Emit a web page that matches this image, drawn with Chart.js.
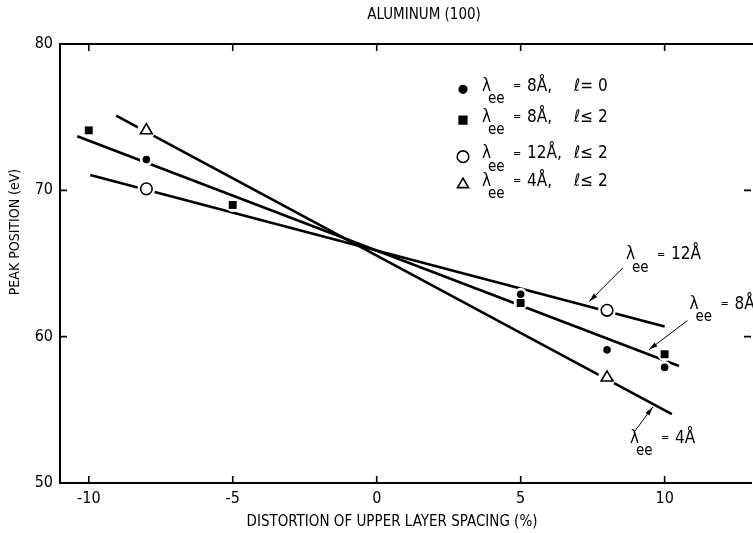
<!DOCTYPE html>
<html>
<head>
<meta charset="utf-8">
<script src="https://cdn.jsdelivr.net/npm/chart.js@4.4.0/dist/chart.umd.min.js"></script>
<style>
  html, body { margin: 0; padding: 0; background: #fff; overflow: hidden; }
  #peakChart { display: block; }
</style>
</head>
<body>
<canvas id="peakChart" width="760" height="533"></canvas>
<script>
// axis ticks
const xTicks = [-10, -5, 0, 5, 10];
const yTicks = [50, 60, 70, 80];

// peak positions (eV) vs distortion (%)
const fillCircleX = [-8, 5, 8, 10];
const fillCircleY = [72.1, 62.9, 59.1, 57.9];
const fillSquareX = [-10, -5, 5, 10];
const fillSquareY = [74.1, 69.0, 62.3, 58.8];
const openCircleX = [-8, 8];
const openCircleY = [70.1, 61.8];
const triangleX = [-8, 8];
const triangleY = [74.1, 57.2];

// straight-line fits, end points
const fit12X = [-9.95, 10.0];
const fit12Y = [71.05, 60.7];
const fit8X = [-10.4, 10.5];
const fit8Y = [73.7, 58.0];
const fit4X = [-9.05, 10.25];
const fit4Y = [75.1, 54.7];

const FONT = "'Liberation Sans Narrow', 'DejaVu Sans Condensed', 'Liberation Sans', sans-serif";

const pts = (xs, ys) => xs.map((x, i) => ({ x, y: ys[i] }));

function markerSet(xs, ys, style, radius, filled) {
    return {
        data: pts(xs, ys),
        showLine: false,
        pointStyle: style,
        pointRadius: radius,
        pointBackgroundColor: filled ? '#000' : '#fff',
        pointBorderColor: '#000',
        pointBorderWidth: filled ? 0 : 1.6,
        order: 0
    };
}

// white ring under each marker so the fit lines break around it
function haloSet(xs, ys, radius) {
    return {
        data: pts(xs, ys),
        showLine: false,
        pointStyle: 'circle',
        pointRadius: radius,
        pointBackgroundColor: '#fff',
        pointBorderWidth: 0,
        order: 1
    };
}

function fitSet(xs, ys) {
    return {
        data: pts(xs, ys),
        showLine: true,
        borderColor: '#000',
        borderWidth: 2.6,
        pointRadius: 0,
        order: 2
    };
}

const datasets = [
    markerSet(fillCircleX, fillCircleY, 'circle', 3.8, true),
    markerSet(fillSquareX, fillSquareY, 'rect', 5.6, true),
    markerSet(openCircleX, openCircleY, 'circle', 5.8, false),
    markerSet(triangleX, triangleY, 'triangle', 6.8, false),
    haloSet(fillCircleX, fillCircleY, 6.5),
    haloSet(fillSquareX, fillSquareY, 7),
    haloSet(openCircleX, openCircleY, 9),
    haloSet(triangleX, triangleY, 9),
    fitSet(fit12X, fit12Y),
    fitSet(fit8X, fit8Y),
    fitSet(fit4X, fit4Y)
];

// legend rows: marker, wavelength, l-limit
const legendRows = [
    { style: 'circle', radius: 3.8, filled: true, lam: '8Å,', ell: 'ℓ= 0', y: 76.9 },
    { style: 'rect', radius: 5.4, filled: true, lam: '8Å,', ell: 'ℓ≤ 2', y: 74.8 },
    { style: 'circle', radius: 5.8, filled: false, lam: '12Å,', ell: 'ℓ≤ 2', y: 72.3 },
    { style: 'triangle', radius: 6.3, filled: false, lam: '4Å,', ell: 'ℓ≤ 2', y: 70.4 }
];

// curve labels: text anchor, arrow tail and arrow tip (data units)
const curveLabels = [
    { value: '12Å', at: [8.76, 65.6], from: [8.55, 64.7], to: [7.38, 62.4] },
    { value: '8Å', at: [10.97, 62.2], from: [10.79, 61.1], to: [9.45, 59.1] },
    { value: '4Å', at: [8.9, 53.05], from: [8.93, 53.45], to: [9.59, 55.2] }
];

function drawLambda(ctx, x, y, value) {
    ctx.textAlign = 'left';
    ctx.textBaseline = 'middle';
    ctx.font = '17px ' + FONT;
    ctx.fillText('λ', x - 3, y);
    ctx.font = '15px ' + FONT;
    ctx.fillText('ee', x + 3, y + 13);
    ctx.font = '11px ' + FONT;
    ctx.fillText('=', x + 28, y);
    ctx.font = '17px ' + FONT;
    ctx.fillText(value, x + 42, y);
}

function drawArrow(ctx, x1, y1, x2, y2) {
    ctx.lineWidth = 1;
    ctx.beginPath();
    ctx.moveTo(x1, y1);
    ctx.lineTo(x2, y2);
    ctx.stroke();
    const a = Math.atan2(y2 - y1, x2 - x1);
    const len = 9, w = 2.4;
    ctx.beginPath();
    ctx.moveTo(x2, y2);
    ctx.lineTo(x2 - len * Math.cos(a) + w * Math.sin(a), y2 - len * Math.sin(a) - w * Math.cos(a));
    ctx.lineTo(x2 - len * Math.cos(a) - w * Math.sin(a), y2 - len * Math.sin(a) + w * Math.cos(a));
    ctx.closePath();
    ctx.fill();
}

const paperPlugin = {
    id: 'paper',
    afterDraw(chart) {
        const { ctx, chartArea: area, scales: { x, y } } = chart;
        ctx.save();
        ctx.strokeStyle = '#000';
        ctx.fillStyle = '#000';

        // top frame line
        ctx.lineWidth = 2;
        ctx.beginPath();
        ctx.moveTo(area.left - 1, area.top);
        ctx.lineTo(area.right + 4, area.top);
        ctx.stroke();

        // inward tick marks
        ctx.lineWidth = 1.6;
        const tl = 7;
        xTicks.forEach(v => {
            const px = x.getPixelForValue(v);
            ctx.beginPath();
            ctx.moveTo(px, area.bottom); ctx.lineTo(px, area.bottom - tl);
            ctx.moveTo(px, area.top); ctx.lineTo(px, area.top + tl);
            ctx.stroke();
        });
        yTicks.slice(1, -1).forEach(v => {
            const py = y.getPixelForValue(v);
            ctx.beginPath();
            ctx.moveTo(area.left, py); ctx.lineTo(area.left + tl, py);
            ctx.moveTo(area.right, py); ctx.lineTo(area.right - tl, py);
            ctx.stroke();
        });

        // titles
        ctx.textAlign = 'center';
        ctx.textBaseline = 'middle';
        ctx.font = '15px ' + FONT;
        ctx.fillText('ALUMINUM (100)', 424, 15);
        ctx.fillText('DISTORTION OF UPPER LAYER SPACING (%)', 392, 522);
        ctx.save();
        ctx.translate(15, 232);
        ctx.rotate(-Math.PI / 2);
        ctx.font = '14px ' + FONT;
        ctx.fillText('PEAK POSITION (eV)', 0, 0);
        ctx.restore();

        // legend
        legendRows.forEach(row => {
            const py = y.getPixelForValue(row.y);
            ctx.fillStyle = row.filled ? '#000' : '#fff';
            ctx.strokeStyle = '#000';
            ctx.lineWidth = row.filled ? 0 : 1.6;
            Chart.helpers.drawPoint(ctx, { pointStyle: row.style, radius: row.radius, borderWidth: ctx.lineWidth, rotation: 0 }, 463, py);
            ctx.fillStyle = '#000';
            drawLambda(ctx, 485, py - 3, row.lam);
            ctx.font = '17px ' + FONT;
            ctx.fillText(row.ell, 574, py - 3);
        });

        // curve labels with arrows
        curveLabels.forEach(c => {
            drawLambda(ctx, x.getPixelForValue(c.at[0]), y.getPixelForValue(c.at[1]), c.value);
            drawArrow(ctx, x.getPixelForValue(c.from[0]), y.getPixelForValue(c.from[1]),
                x.getPixelForValue(c.to[0]), y.getPixelForValue(c.to[1]));
        });
        ctx.restore();
    }
};

const ctx = document.getElementById('peakChart');
new Chart(ctx, {
    type: 'scatter',
    data: { datasets },
    options: {
        responsive: false,
        animation: false,
        layout: { padding: { top: 44, right: 4, left: 0, bottom: 0 } },
        plugins: { legend: { display: false }, tooltip: { enabled: false } },
        scales: {
            x: {
                type: 'linear',
                min: -11,
                max: 13,
                afterBuildTicks: s => { s.ticks = xTicks.map(v => ({ value: v })); },
                afterFit: s => { s.height = 50; },
                grid: { display: false, drawTicks: false },
                border: { display: true, color: '#000', width: 2 },
                ticks: { color: '#000', padding: 6, font: { family: FONT, size: 16 } }
            },
            y: {
                type: 'linear',
                min: 50,
                max: 80,
                afterBuildTicks: s => { s.ticks = yTicks.map(v => ({ value: v })); },
                afterFit: s => { s.width = 60; },
                grid: { display: false, drawTicks: false },
                border: { display: true, color: '#000', width: 2 },
                ticks: { color: '#000', padding: 7, font: { family: FONT, size: 16 } }
            }
        }
    },
    plugins: [paperPlugin]
});
</script>
</body>
</html>
